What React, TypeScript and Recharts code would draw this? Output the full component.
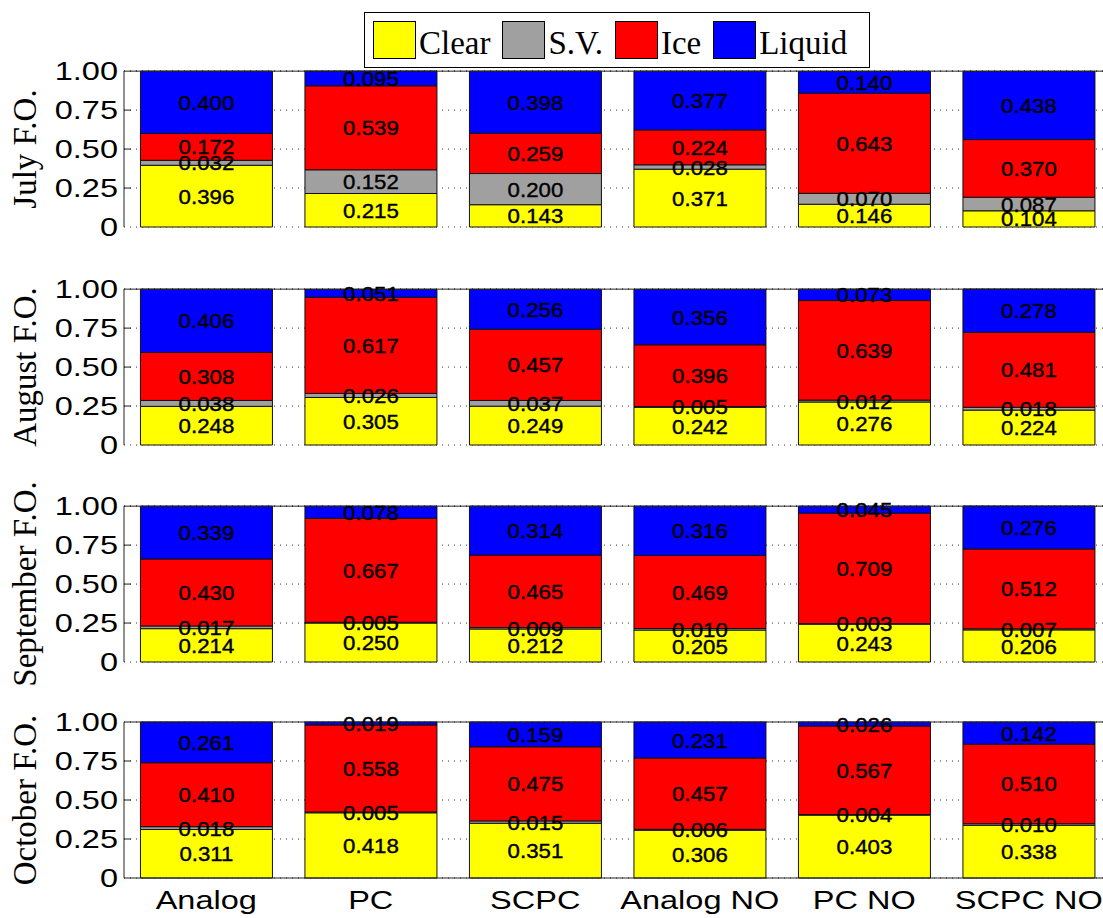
import React from 'react'
import { BarChart, Bar, XAxis, YAxis, CartesianGrid, LabelList, Label, ReferenceLine } from 'recharts'

const CATEGORIES = ['Analog', 'PC', 'SCPC', 'Analog NO', 'PC NO', 'SCPC NO']
const MONTHS = ['July', 'August', 'September', 'October']
const Y_TICKS = [0, 0.25, 0.5, 0.75, 1]

// one row per month, one value per category
const clearFO = [
  [0.396, 0.215, 0.143, 0.371, 0.146, 0.104],
  [0.248, 0.305, 0.249, 0.242, 0.276, 0.224],
  [0.214, 0.25, 0.212, 0.205, 0.243, 0.206],
  [0.311, 0.418, 0.351, 0.306, 0.403, 0.338],
]
const svFO = [
  [0.032, 0.152, 0.2, 0.028, 0.07, 0.087],
  [0.038, 0.026, 0.037, 0.005, 0.012, 0.018],
  [0.017, 0.005, 0.009, 0.01, 0.003, 0.007],
  [0.018, 0.005, 0.015, 0.006, 0.004, 0.01],
]
const iceFO = [
  [0.172, 0.539, 0.259, 0.224, 0.643, 0.37],
  [0.308, 0.617, 0.457, 0.396, 0.639, 0.481],
  [0.43, 0.667, 0.465, 0.469, 0.709, 0.512],
  [0.41, 0.558, 0.475, 0.457, 0.567, 0.51],
]
const liquidFO = [
  [0.4, 0.095, 0.398, 0.377, 0.14, 0.438],
  [0.406, 0.051, 0.256, 0.356, 0.073, 0.278],
  [0.339, 0.078, 0.314, 0.316, 0.045, 0.276],
  [0.261, 0.019, 0.159, 0.231, 0.026, 0.142],
]

const SERIES = [
  { key: 'clear', label: 'Clear', color: '#FFFF00' },
  { key: 'sv', label: 'S.V.', color: '#A0A0A0' },
  { key: 'ice', label: 'Ice', color: '#FF0000' },
  { key: 'liquid', label: 'Liquid', color: '#0000FF' },
]

const PANEL_TOPS = [71, 289, 506, 722]
const PLOT_H = 156
const PAD = 40
const SANS = '"Liberation Sans", Arial, Helvetica, sans-serif'
const SERIF = '"Liberation Serif", "Times New Roman", serif'

const renderValue = (props: any) => {
  const { x, y, width, height, value } = props
  const cx = Number(x) + Number(width) / 2
  const cy = Number(y) + Number(height) / 2
  return (
    <text
      transform={`translate(${cx},${cy}) scale(1.06,1)`}
      textAnchor="middle"
      dy="0.36em"
      fontFamily={SANS}
      fontSize={21}
      fill="#000"
      stroke="#000"
      strokeWidth={0.4}
    >
      {Number(value).toFixed(3)}
    </text>
  )
}

const YTick = ({ x, y, payload }: any) => {
  const v = payload.value
  const inner = v > 0 && v < 1
  return (
    <g>
      <text
        transform={`translate(${x},${y}) scale(1.3,1)`}
        textAnchor="end"
        dy="0.36em"
        fontFamily={SANS}
        fontSize={25}
        fill="#000"
      >
        {v === 0 ? '0' : v.toFixed(2)}
      </text>
      {inner && <line x1={x + 6} x2={x + 13} y1={y} y2={y} stroke="#222" />}
    </g>
  )
}

const XTick = ({ x, y, payload }: any) => (
  <text
    transform={`translate(${x},${y + 31}) scale(1.3,1)`}
    textAnchor="middle"
    fontFamily={SANS}
    fontSize={25}
    fill="#000"
  >
    {payload.value}
  </text>
)

function MonthPanel({ month, index, last }: { month: string; index: number; last: boolean }) {
  const data = CATEGORIES.map((name, j) => ({
    name,
    clear: clearFO[index][j],
    sv: svFO[index][j],
    ice: iceFO[index][j],
    liquid: liquidFO[index][j],
  }))
  const xHeight = last ? 44 : 0
  const bottom = last ? 0 : PAD

  return (
    <div style={{ position: 'absolute', left: 0, top: PANEL_TOPS[index] - PAD }}>
      <BarChart
        width={1120}
        height={PAD + PLOT_H + xHeight + bottom}
        data={data}
        margin={{ top: PAD, right: 9, left: 0, bottom }}
        barCategoryGap="10%"
      >
        <CartesianGrid vertical={false} stroke="#333" strokeDasharray="1 5" />
        <XAxis
          dataKey="name"
          height={xHeight}
          stroke="#222"
          tickLine={false}
          tickSize={0}
          tickMargin={0}
          tick={last ? <XTick /> : false}
          interval={0}
        />
        <YAxis
          width={124}
          domain={[0, 1]}
          ticks={Y_TICKS}
          stroke="#222"
          tickLine={false}
          tickSize={0}
          tickMargin={6}
          tick={<YTick />}
        >
          <Label
            content={({ viewBox }: any) => {
              const cx = viewBox.x + 36
              const cy = viewBox.y + viewBox.height / 2
              return (
                <text
                  x={cx}
                  y={cy}
                  transform={`rotate(-90, ${cx}, ${cy})`}
                  textAnchor="middle"
                  fontFamily={SERIF}
                  fontSize={33}
                  fill="#000"
                >
                  {`${month} F.O.`}
                </text>
              )
            }}
          />
        </YAxis>
        {SERIES.map((s) => (
          <Bar key={s.key} dataKey={s.key} stackId="fo" fill={s.color} stroke="#111" strokeWidth={1} isAnimationActive={false}>
            <LabelList dataKey={s.key} content={renderValue} />
          </Bar>
        ))}
        <ReferenceLine y={1} stroke="#222" />
      </BarChart>
    </div>
  )
}

function FOLegend() {
  return (
    <div
      style={{
        position: 'absolute',
        left: 364,
        top: 12,
        width: 506,
        height: 56,
        boxSizing: 'border-box',
        border: '1px solid #000',
        background: '#fff',
        display: 'flex',
        alignItems: 'center',
        paddingLeft: 8,
        zIndex: 2,
      }}
    >
      {SERIES.map((s) => (
        <div key={s.key} style={{ display: 'flex', alignItems: 'center', marginRight: 12 }}>
          <div style={{ width: 43, height: 38, boxSizing: 'border-box', background: s.color, border: '1px solid #000' }} />
          <span style={{ fontFamily: SERIF, fontSize: 33, marginLeft: 3, lineHeight: '38px', position: 'relative', top: 3 }}>
            {s.label}
          </span>
        </div>
      ))}
    </div>
  )
}

export default function App() {
  return (
    <div style={{ position: 'absolute', left: 0, top: 0, width: 1103, height: 918, overflow: 'hidden', background: '#fff' }}>
      {MONTHS.map((m, i) => (
        <MonthPanel key={m} month={m} index={i} last={i === MONTHS.length - 1} />
      ))}
      <FOLegend />
    </div>
  )
}
